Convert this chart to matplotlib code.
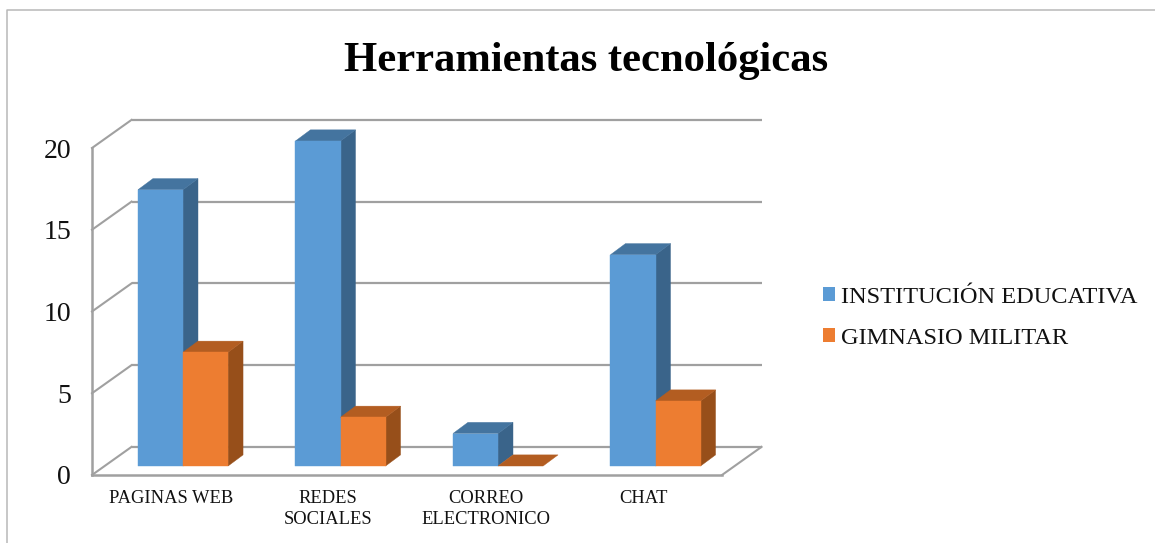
import matplotlib
matplotlib.use("Agg")
import numpy as np
import matplotlib.pyplot as plt
from matplotlib.lines import Line2D
from matplotlib.patches import Polygon, Patch

plt.rcParams['font.family'] = ['Liberation Serif', 'DejaVu Serif']

categories = ['PAGINAS WEB', 'REDES\nSOCIALES', 'CORREO\nELECTRONICO', 'CHAT']
institucion = [17, 20, 2, 13]
gimnasio = [7, 3, 0, 4]
series_names = ['INSTITUCIÓN EDUCATIVA', 'GIMNASIO MILITAR']
y_ticks = [0, 5, 10, 15, 20]

W, H = 1155, 543
GRAY = '#a0a0a0'
FRAME = '#b8b8b8'

# depth offsets, in data units of the front plane
WALL_DX, WALL_DY = 0.251, 1.72
BAR_DX, BAR_DY = 0.078, 0.55
DEPTH_DX, DEPTH_DY = 0.095, 0.68
BAR_W = 0.286
BAR_SCALE = 0.994  # bars sit a little further back than the front plane

BLUE = ('#5b9bd5', '#44749f', '#3a648a')
ORANGE = ('#ed7d31', '#b35d21', '#974f1a')


def draw_bar(ax, x0, value, colors, z):
    """Front face, then top and side faces, of one fake 3D bar."""
    front, top, side = colors
    x0 = x0 + BAR_DX
    x1 = x0 + BAR_W
    y0 = BAR_DY
    y1 = BAR_DY + value * BAR_SCALE
    if value > 0:
        ax.bar(x0, value * BAR_SCALE, BAR_W, bottom=y0, align='edge', color=front, zorder=z + 0.2,
               clip_on=False, edgecolor=front, linewidth=0.3)
        ax.add_patch(Polygon([(x1, y0), (x1 + DEPTH_DX, y0 + DEPTH_DY),
                              (x1 + DEPTH_DX, y1 + DEPTH_DY), (x1, y1)],
                             facecolor=side, edgecolor=side, linewidth=0.3, zorder=z, clip_on=False))
    ax.add_patch(Polygon([(x0, y1), (x0 + DEPTH_DX, y1 + DEPTH_DY),
                          (x1 + DEPTH_DX, y1 + DEPTH_DY), (x1, y1)],
                         facecolor=top, edgecolor=top, linewidth=0.3, zorder=z + 0.1, clip_on=False))


fig = plt.figure(figsize=(W / 100, H / 100), dpi=100)
ax = fig.add_axes([92 / W, 1 - 475 / H, 630 / W, 327 / H])
ax.set_xlim(-0.5, 3.5)
ax.set_ylim(0, 20)
ax.patch.set_alpha(0)

left, right = ax.get_xlim()

# back wall grid and the diagonals on the side wall
for v in y_ticks:
    ax.plot([left + WALL_DX, right + WALL_DX], [v + WALL_DY, v + WALL_DY], color=GRAY, lw=1.6,
            clip_on=False, zorder=1, solid_capstyle='butt')
    ax.plot([left, left + WALL_DX], [v, v + WALL_DY], color=GRAY, lw=1.5,
            clip_on=False, zorder=1)
ax.plot([right, right + WALL_DX], [0, WALL_DY], color=GRAY, lw=1.5, clip_on=False, zorder=1)

for i in range(len(categories)):
    draw_bar(ax, i - BAR_W, institucion[i], BLUE, 2 + i)
    draw_bar(ax, i, gimnasio[i], ORANGE, 2.5 + i)

for s in ['top', 'right']:
    ax.spines[s].set_visible(False)
for s in ['left', 'bottom']:
    ax.spines[s].set_color(GRAY)
    ax.spines[s].set_linewidth(1.8)
    ax.spines[s].set_zorder(1.5)

ax.set_yticks(y_ticks)
ax.set_yticklabels([str(v) for v in y_ticks], fontsize=20, color='#111111')
ax.set_xticks(np.arange(len(categories)))
ax.set_xticklabels(categories, fontsize=13.3, color='#111111', linespacing=1.32)
ax.tick_params(axis='both', length=0)
ax.tick_params(axis='y', pad=15)
ax.tick_params(axis='x', pad=10.5)

fig.text(586 / W, 1 - 61 / H, 'Herramientas tecnológicas', fontsize=30.7, fontweight='bold',
         ha='center', va='center', color='black')

handles = [Patch(facecolor=BLUE[0], label=series_names[0]),
           Patch(facecolor=ORANGE[0], label=series_names[1])]
fig.legend(handles=handles, loc='upper left', bbox_to_anchor=(823 / W, 1 - 287 / H), frameon=False,
           fontsize=17.6, handlelength=0.5, handleheight=0.5, handletextpad=0.22,
           labelspacing=0.8, borderpad=0, borderaxespad=0, labelcolor='#111111')

# thin outer frame of the pasted chart
fig.add_artist(Line2D([7 / W, 7 / W, 1], [0, 1 - 10 / H, 1 - 10 / H], color=FRAME, lw=1.1))

fig.savefig('out.png', dpi=100)
